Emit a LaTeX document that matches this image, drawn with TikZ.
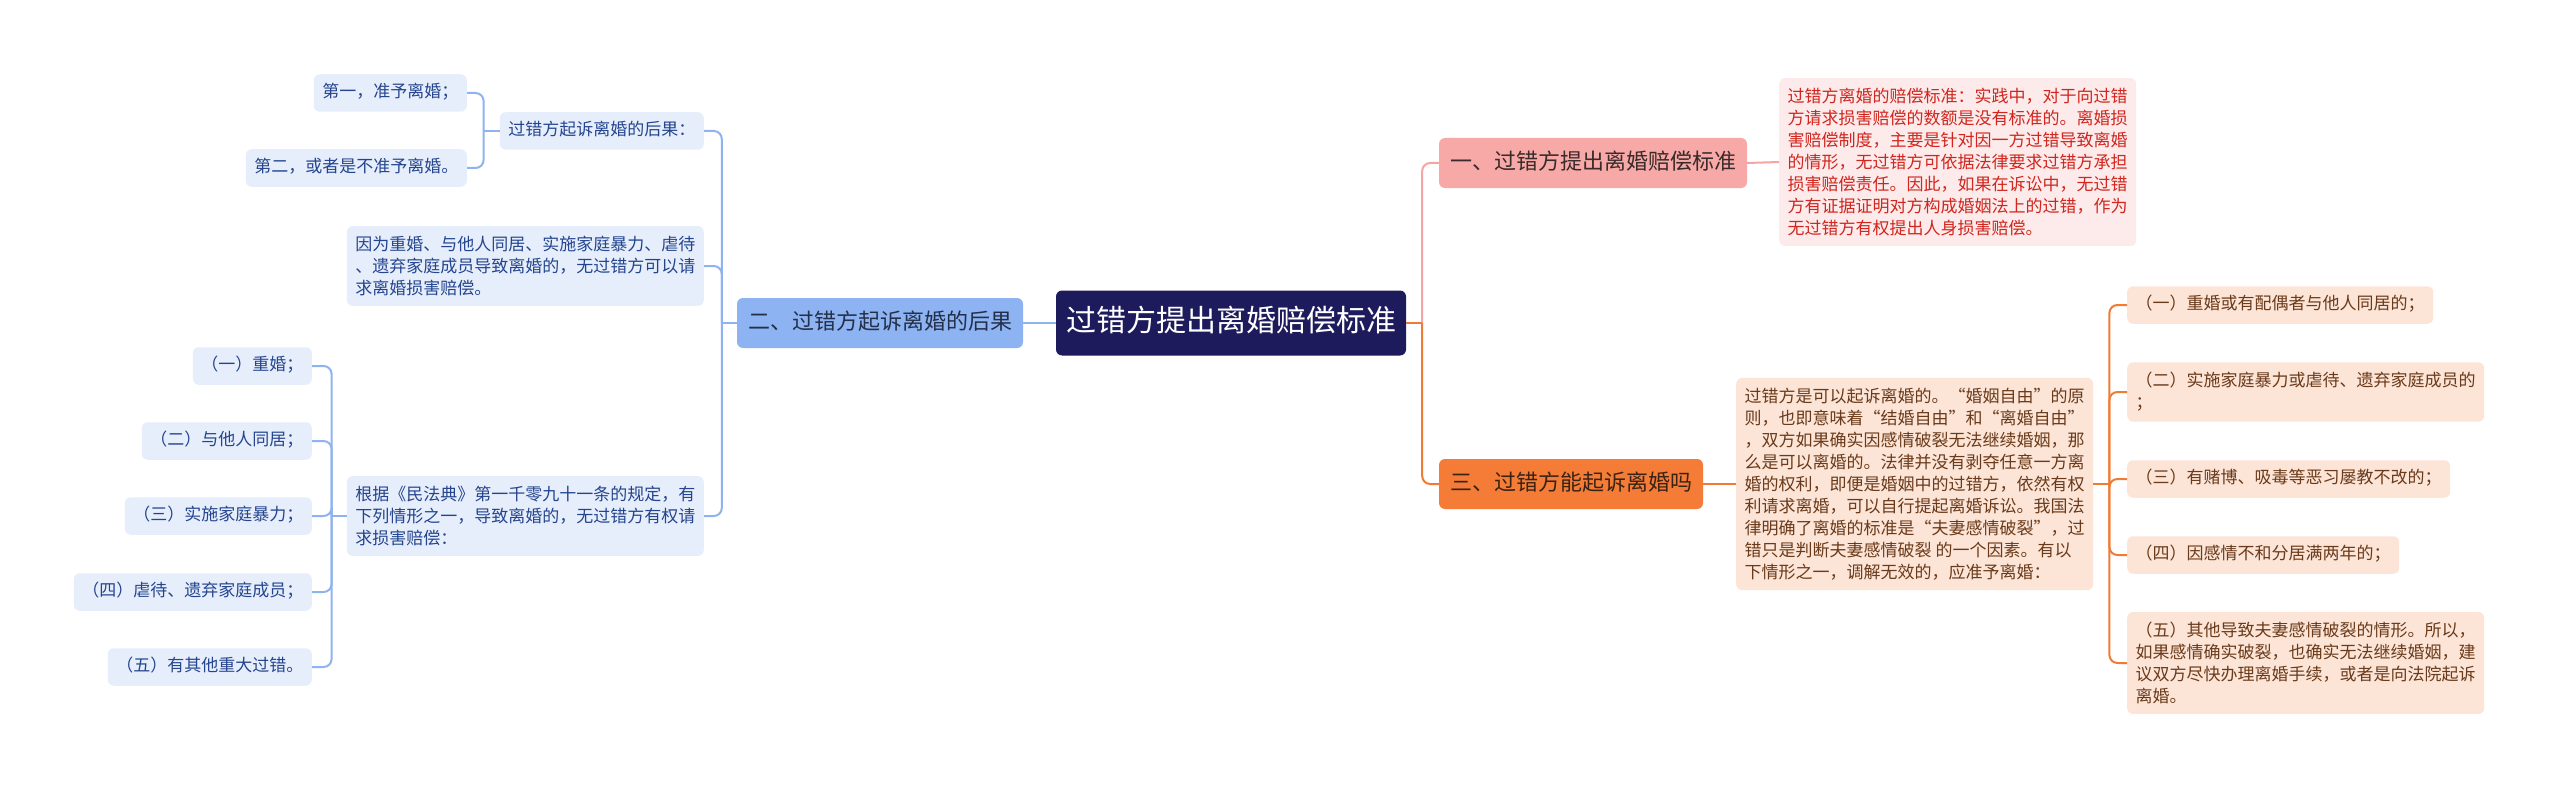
\documentclass[tikz,border=0pt]{standalone}
\usepackage{fontspec}
\setmainfont{Noto Sans CJK SC}
\definecolor{rootbg}{HTML}{1D1B5C}
\definecolor{pinkbg}{HTML}{F7A9A7}
\definecolor{pinkln}{HTML}{F4A6A5}
\definecolor{pinktx}{HTML}{3A2A2A}
\definecolor{redbg}{HTML}{FDEAEA}
\definecolor{redtx}{HTML}{D0261E}
\definecolor{bluebr}{HTML}{8DB3F3}
\definecolor{blueln}{HTML}{8FB3F0}
\definecolor{bluebrtx}{HTML}{24304A}
\definecolor{bluebg}{HTML}{E6EEFC}
\definecolor{bluetx}{HTML}{24448E}
\definecolor{orbr}{HTML}{F47C36}
\definecolor{orln}{HTML}{EF7B35}
\definecolor{orbrtx}{HTML}{3A2314}
\definecolor{orbg}{HTML}{FCE4D6}
\definecolor{ortx}{HTML}{6A3A1A}
\begin{document}
\begin{tikzpicture}[x=1pt,y=-1pt,
  base/.style={rounded corners=6pt, inner xsep=8.5pt, inner ysep=10pt, font=\fontsize{17}{22}\selectfont},
  multi/.style={base, align=left},
  one/.style={base, text height=13.5pt, text depth=4pt},
  bfill/.style={fill=bluebg, text=bluetx},
  ofill/.style={fill=orbg, text=ortx},
  rfill/.style={fill=redbg, text=redtx},
  branch/.style={rounded corners=6pt, inner xsep=11pt, inner ysep=14pt, text height=17pt, text depth=5pt, font=\fontsize{22}{26}\selectfont},
  rootbox/.style={rounded corners=6pt, fill=rootbg, text=white, inner xsep=10pt, inner ysep=17.5pt, text height=23pt, text depth=7pt, font=\fontsize{30}{34}\selectfont},
  conn/.style={line width=2pt, rounded corners=8pt},
]
\useasboundingbox[fill=white] (0,0) rectangle (2560,789);

% root
\node[rootbox] (root) at (1231,323) {过错方提出离婚赔偿标准};

% branches
\node[branch, fill=pinkbg, text=pinktx] (b1) at (1593,163) {一、过错方提出离婚赔偿标准};
\node[branch, fill=bluebr, text=bluebrtx] (b2) at (880,323) {二、过错方起诉离婚的后果};
\node[branch, fill=orbr, text=orbrtx] (b3) at (1571,484) {三、过错方能起诉离婚吗};

% right, pink
\node[multi, rfill, anchor=west] (rd) at (1779,162) {过错方离婚的赔偿标准：实践中，对于向过错\\方请求损害赔偿的数额是没有标准的。离婚损\\害赔偿制度，主要是针对因一方过错导致离婚\\的情形，无过错方可依据法律要求过错方承担\\损害赔偿责任。因此，如果在诉讼中，无过错\\方有证据证明对方构成婚姻法上的过错，作为\\无过错方有权提出人身损害赔偿。};

% right, orange
\node[multi, ofill, anchor=west] (ob) at (1736,484) {过错方是可以起诉离婚的。“婚姻自由”的原\\则，也即意味着“结婚自由”和“离婚自由”\\，双方如果确实因感情破裂无法继续婚姻，那\\么是可以离婚的。法律并没有剥夺任意一方离\\婚的权利，即便是婚姻中的过错方，依然有权\\利请求离婚，可以自行提起离婚诉讼。我国法\\律明确了离婚的标准是“夫妻感情破裂”，过\\错只是判断夫妻感情破裂 的一个因素。有以\\下情形之一，调解无效的，应准予离婚：};
\node[one, ofill, anchor=west] (o1) at (2127,305) {（一）重婚或有配偶者与他人同居的；};
\node[multi, ofill, anchor=west] (o2) at (2127,392) {（二）实施家庭暴力或虐待、遗弃家庭成员的\\；};
\node[one, ofill, anchor=west] (o3) at (2127,479) {（三）有赌博、吸毒等恶习屡教不改的；};
\node[one, ofill, anchor=west] (o4) at (2127,555) {（四）因感情不和分居满两年的；};
\node[multi, ofill, anchor=west] (o5) at (2127,663) {（五）其他导致夫妻感情破裂的情形。所以，\\如果感情确实破裂，也确实无法继续婚姻，建\\议双方尽快办理离婚手续，或者是向法院起诉\\离婚。};

% left, blue
\node[one, bfill, anchor=east] (l1) at (704,131) {过错方起诉离婚的后果：};
\node[one, bfill, anchor=east] (l1a) at (467,93) {第一，准予离婚；};
\node[one, bfill, anchor=east] (l1b) at (467,168) {第二，或者是不准予离婚。};
\node[multi, bfill, anchor=east] (l2) at (704,266) {因为重婚、与他人同居、实施家庭暴力、虐待\\、遗弃家庭成员导致离婚的，无过错方可以请\\求离婚损害赔偿。};
\node[multi, bfill, anchor=east] (l3) at (704,516) {根据《民法典》第一千零九十一条的规定，有\\下列情形之一，导致离婚的，无过错方有权请\\求损害赔偿：};
\node[one, bfill, anchor=east] (m1) at (312,366) {（一）重婚；};
\node[one, bfill, anchor=east] (m2) at (312,441) {（二）与他人同居；};
\node[one, bfill, anchor=east] (m3) at (312,516) {（三）实施家庭暴力；};
\node[one, bfill, anchor=east] (m4) at (312,592) {（四）虐待、遗弃家庭成员；};
\node[one, bfill, anchor=east] (m5) at (312,667) {（五）有其他重大过错。};

% junctions
\coordinate (jr) at ([xshift=16pt]root.east);
\coordinate (jb) at ([xshift=-15pt]b2.west);
\coordinate (jl1) at ([xshift=-16pt]l1.west);
\coordinate (jl3) at ([xshift=-15pt]l3.west);
\coordinate (jo) at ([xshift=16pt]ob.east);

% pink connectors
\draw[conn, pinkln] (jr) |- (b1.west);
\draw[conn, pinkln] (b1.east) -- (rd.west);

% orange connectors
\draw[conn, orln] (root.east) -- (jr);
\draw[conn, orln] (jr) |- (b3.west);
\draw[conn, orln] (b3.east) -- (ob.west);
\draw[conn, orln] (ob.east) -- (jo);
\foreach \n in {o1,o2,o3,o4,o5} \draw[conn, orln] (jo) |- (\n.west);

% blue connectors
\draw[conn, blueln] (root.west) -- (b2.east);
\draw[conn, blueln] (b2.west) -- (jb);
\foreach \n in {l1,l2,l3} \draw[conn, blueln] (jb) |- (\n.east);
\draw[conn, blueln] (l1.west) -- (jl1);
\foreach \n in {l1a,l1b} \draw[conn, blueln] (jl1) |- (\n.east);
\draw[conn, blueln] (l3.west) -- (jl3);
\foreach \n in {m1,m2,m3,m4,m5} \draw[conn, blueln] (jl3) |- (\n.east);
\end{tikzpicture}
\end{document}
